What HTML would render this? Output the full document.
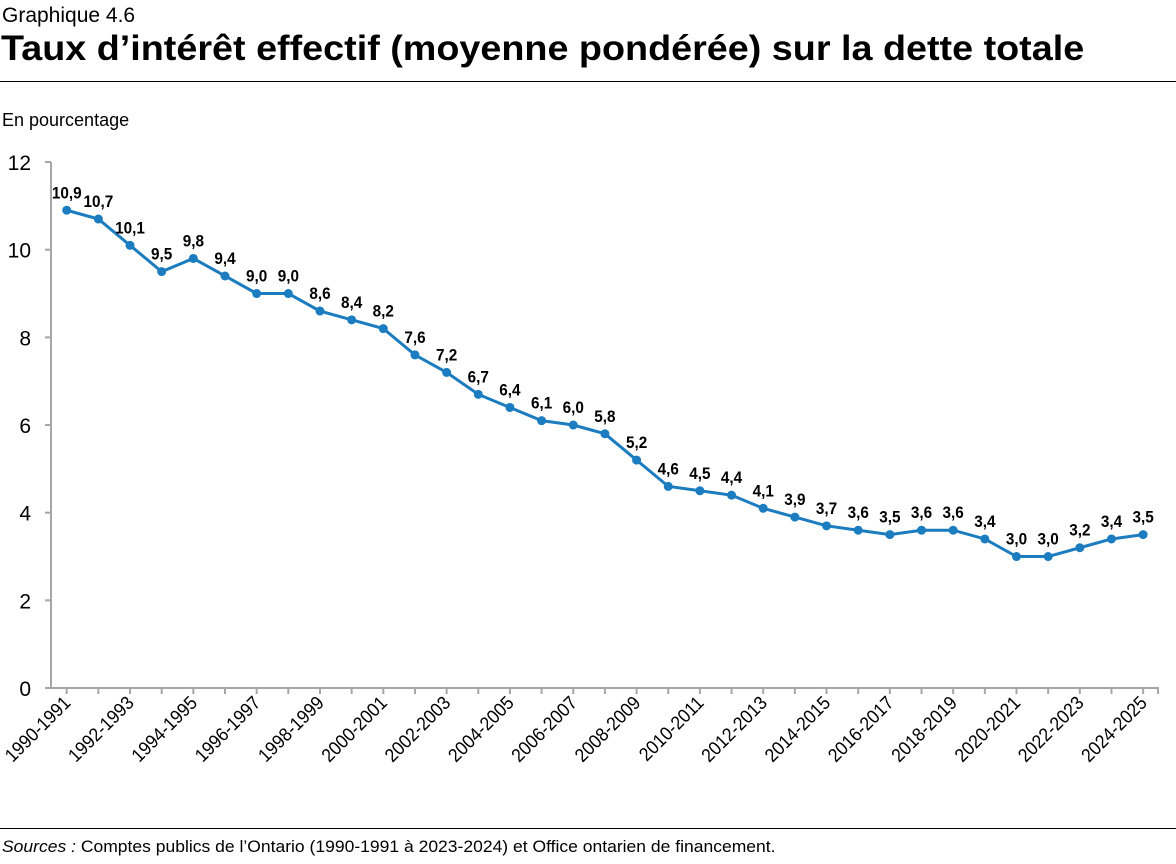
<!DOCTYPE html>
<html><head><meta charset="utf-8"><style>
body{margin:0;background:#fff;font-family:"Liberation Sans",sans-serif;color:#000}
.w{position:relative;width:1176px;height:864px;overflow:hidden}
</style></head><body><div class="w">
<div style="position:absolute;left:2px;top:4px;font-size:21px">Graphique 4.6</div>
<div style="position:absolute;left:1px;top:29px;font-size:35px;font-weight:bold;white-space:nowrap;transform:scaleX(1.078);transform-origin:0 0">Taux d’intérêt effectif (moyenne pondérée) sur la dette totale</div>
<div style="position:absolute;left:0;top:81px;width:1176px;height:1px;background:#000"></div>
<div style="position:absolute;left:2px;top:110px;font-size:18px">En pourcentage</div>
<div style="position:absolute;left:0;top:828px;width:1176px;height:1px;background:#000"></div>
<div style="position:absolute;left:2px;top:837px;font-size:17px;white-space:nowrap;transform:scaleX(1.03);transform-origin:0 0"><i>Sources :</i> Comptes publics de l’Ontario (1990-1991 à 2023-2024) et Office ontarien de financement.</div>
<svg id="s" width="1176" height="864" style="position:absolute;left:0;top:0" font-family="Liberation Sans, sans-serif"></svg>
</div>
<script>
var v=[10.9,10.7,10.1,9.5,9.8,9.4,9.0,9.0,8.6,8.4,8.2,7.6,7.2,6.7,6.4,6.1,6.0,5.8,5.2,4.6,4.5,4.4,4.1,3.9,3.7,3.6,3.5,3.6,3.6,3.4,3.0,3.0,3.2,3.4,3.5];
var s='',X=i=>66.7+i*31.66,Y=t=>688-t*43.83;
s+='<line x1="51" y1="162" x2="51" y2="688" stroke="#a6a6a6" stroke-width="2"/>';
s+='<line x1="45" y1="688" x2="1159" y2="688" stroke="#a6a6a6" stroke-width="2"/>';
for(var k=0;k<=6;k++){var y=Y(2*k);s+='<line x1="45" y1="'+y+'" x2="51" y2="'+y+'" stroke="#a6a6a6" stroke-width="2"/><text x="31" y="'+(y+8)+'" font-size="21" text-anchor="end">'+(2*k)+'</text>';}
var p='';
for(var i=0;i<35;i++){var x=X(i);s+='<line x1="'+x+'" y1="688" x2="'+x+'" y2="694" stroke="#a6a6a6" stroke-width="2"/>';p+=(i?'L':'M')+x+' '+Y(v[i]);}
s+='<line x1="1158" y1="688" x2="1158" y2="694" stroke="#a6a6a6" stroke-width="2"/>';
s+='<path d="'+p+'" fill="none" stroke="#1b7cbf" stroke-width="3"/>';
for(var i=0;i<35;i++){var x=X(i),y=Y(v[i]);s+='<circle cx="'+x+'" cy="'+y+'" r="4.5" fill="#1b7cbf"/><text transform="translate('+x+','+(y-12)+') scale(0.9,1)" font-size="17" font-weight="bold" text-anchor="middle">'+v[i].toFixed(1).replace('.',',')+'</text>';
if(i%2==0){var a=1990+i;s+='<text transform="translate('+(x+5)+',704) rotate(-45) scale(0.92,1)" font-size="19" text-anchor="end">'+a+'-'+(a+1)+'</text>';}}
document.getElementById('s').innerHTML=s;
</script>
</body></html>
